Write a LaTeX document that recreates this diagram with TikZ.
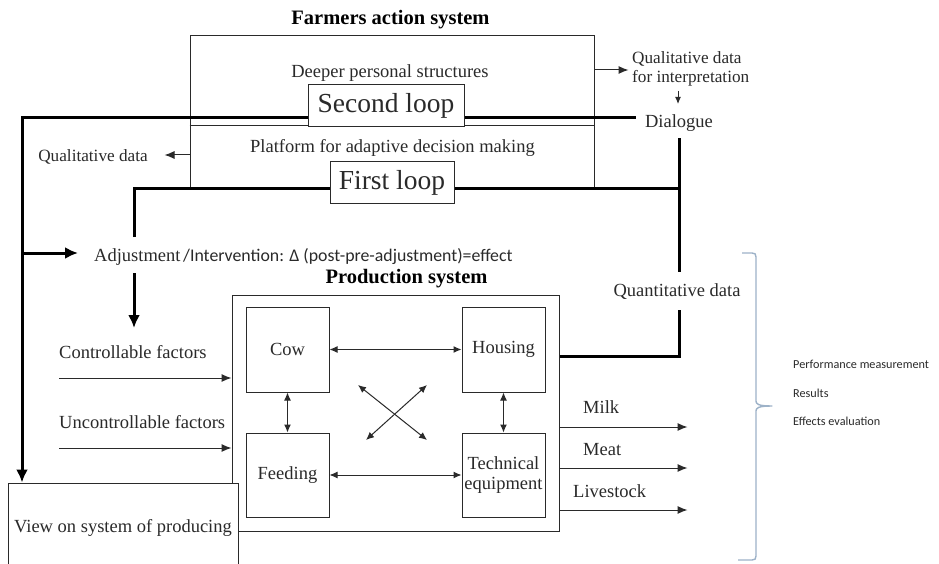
\documentclass[tikz,border=0pt]{standalone}
\usepackage{fontspec}
\setmainfont{Liberation Serif}
\newfontfamily\calib{Carlito}
\usetikzlibrary{arrows.meta,calc}
\definecolor{ink}{HTML}{2A2A2A}
\definecolor{bracecol}{HTML}{9DB2C8}
\tikzset{
  box/.style={draw=ink, line width=1pt, fill=white, inner sep=0pt},
  txt/.style={inner sep=0pt, text=ink, font=\fontsize{18.5}{21}\selectfont},
  smalltxt/.style={inner sep=0pt, text=ink, font=\fontsize{17.2}{19}\selectfont},
  titletxt/.style={inner sep=0pt, text=black, font=\fontsize{20.5}{23}\selectfont\bfseries},
  looptxt/.style={box, font=\fontsize{27.5}{30}\selectfont, text=ink},
  sanstxt/.style={inner sep=0pt, text=ink, font=\calib\fontsize{17.8}{20}\selectfont},
  tinytxt/.style={inner sep=0pt, text=ink, font=\calib\fontsize{12.2}{14}\selectfont},
  ln/.style={draw=ink, line width=1pt},
  thk/.style={draw=black, line width=3pt},
  arr/.style={ln, -{Latex[length=10pt,width=8pt]}},
  darr/.style={ln, {Latex[length=8pt,width=7pt]}-{Latex[length=8pt,width=7pt]}},
  tarr/.style={thk, -{Latex[length=13pt,width=12pt]}},
}
\begin{document}
\begin{tikzpicture}[x=1pt,y=-1pt]
\useasboundingbox (0,0) rectangle (939,564);
\clip (0,0) rectangle (939,564);
\fill[white] (0,0) rectangle (939,564);

% ---------- Farmers action system ----------
\node[titletxt, anchor=base] (title) at (390.5,25) {Farmers action system};
\node[box, minimum width=404pt, minimum height=153pt] (fas) at (392,112.5) {};
\draw[ln] (fas.west |- 0,126) -- (fas.east |- 0,126);
\node[txt, anchor=base] (deep) at (390,78) {Deeper personal structures};
\node[txt, anchor=base] (plat) at (392.5,153) {Platform for adaptive decision making};

% right side: qualitative data for interpretation / dialogue
\node[smalltxt, anchor=base west] (qd1) at (632,64) {Qualitative data};
\node[smalltxt, anchor=base west] (qd2) at (632,83) {for interpretation};
\node[txt, anchor=base, inner ysep=6pt] (dial) at (679,128) {Dialogue};
\draw[arr] (fas.east |- 0,70) -- ++(34,0);
\draw[ln, -{Latex[length=7pt,width=6pt]}] ($(dial.north)+(-1,-18)$) -- ($(dial.north)+(-1,-5)$);

% left qualitative data
\node[smalltxt, anchor=base] (qdl) at (93,162) {Qualitative data};
\draw[arr] (fas.west |- 0,155) -- ++(-25,0);

% ---------- Production system ----------
\node[titletxt, anchor=base] (ptitle) at (406.5,283) {Production system};
\node[box, minimum width=327pt, minimum height=236pt] (prod) at (395.5,413) {};
\node[box, txt, minimum width=83pt, minimum height=85pt] (cow) at (287.5,349.5) {Cow};
\node[box, txt, minimum width=83pt, minimum height=85pt] (hous) at (503.5,349.5) {Housing};
\node[box, txt, minimum width=83pt, minimum height=84pt] (feed) at (287.5,475) {Feeding};
\node[box, txt, minimum width=83pt, minimum height=84pt, align=center] (tech) at (503.5,475) {Technical\\[-0.5pt]equipment};
\draw[darr] (cow) -- (hous);
\draw[darr] (cow) -- (feed);
\draw[darr] (hous) -- (tech);
\draw[darr] (feed) -- (tech);
\coordinate (x1) at (358,385);
\coordinate (x2) at (427,440);
\coordinate (x3) at (427,385);
\coordinate (x4) at (366,440);
\draw[darr] (x1) -- (x2);
\draw[darr] (x3) -- (x4);

% inputs
\node[txt, anchor=base west] (ctrl) at (59,358) {Controllable factors};
\node[txt, anchor=base west] (unc) at (59,428) {Uncontrollable factors};
\draw[arr] (ctrl.west |- 0,378) -- (prod.west |- 0,378);
\draw[arr] (unc.west |- 0,448) -- (prod.west |- 0,448);

% outputs
\node[txt, anchor=base west] (milk) at (583,413) {Milk};
\node[txt, anchor=base west] (meat) at (583,455) {Meat};
\node[txt, anchor=base west] (live) at (573,497) {Livestock};
\draw[arr] (prod.east |- 0,427) -- ++(128,0);
\draw[arr] (prod.east |- 0,468) -- ++(128,0);
\draw[arr] (prod.east |- 0,510) -- ++(128,0);

% view box
\node[box, txt, minimum width=230pt, minimum height=90pt] (view) at (123,528) {View on system of producing};

% ---------- loops ----------
\node[looptxt, minimum width=156pt, minimum height=42pt] (loop2) at (386,106) {Second loop};
\node[looptxt, minimum width=124pt, minimum height=41pt] (loop1) at (392,182.5) {First loop};

% adjustment
\node[txt, anchor=base west] (adj) at (94,261) {Adjustment};
\node[sanstxt, anchor=base west] (interv) at (183,261) {/Intervention: Δ (post-pre-adjustment)=effect};

% second loop thick line
\coordinate (tl) at (22,118);
\coordinate (c2) at (636,118);
\draw[tarr] (loop2.west |- tl) -- (tl) -- (tl |- view.north);
\draw[thk] (loop2.east |- tl) -- (c2);
\draw[tarr] (tl |- 0,253) -- ++(56,0);

% first loop thick line
\coordinate (fl) at (134,189);
\coordinate (fla) at (134,237);
\coordinate (adjd1) at (134,273);
\coordinate (adjd2) at (134,328);
\draw[thk] (fla) -- (fl) -- (loop1.west |- fl);
\draw[thk] (loop1.east |- fl) -- (dial.south |- fl);
\draw[tarr] (adjd1) -- (adjd2);

% quantitative data
\node[txt, anchor=base, inner xsep=0pt, inner ysep=11pt] (quant) at (677,296) {Quantitative data};
\draw[thk] (dial.south) -- (dial.south |- quant.north);
\draw[thk] (dial.south |- quant.south) -- (dial.south |- 0,356) -- (prod.east |- 0,356);

% ---------- brace and evaluation labels ----------
\draw[bracecol, line width=1.4pt, line join=round]
  (742,253) -- (752,253) .. controls (755,253) and (756,254) .. (756,257)
  -- (756,401) .. controls (756,404) and (758,406) .. (772,406)
  .. controls (758,406) and (756,408) .. (756,411)
  -- (756,556) .. controls (756,559) and (755,560) .. (752,560) -- (738,560);
\node[tinytxt, anchor=base west] (perf) at (793,368) {Performance measurement};
\node[tinytxt, anchor=base west] (res) at (793,397) {Results};
\node[tinytxt, anchor=base west] (eff) at (793,425) {Effects evaluation};
\end{tikzpicture}
\end{document}
